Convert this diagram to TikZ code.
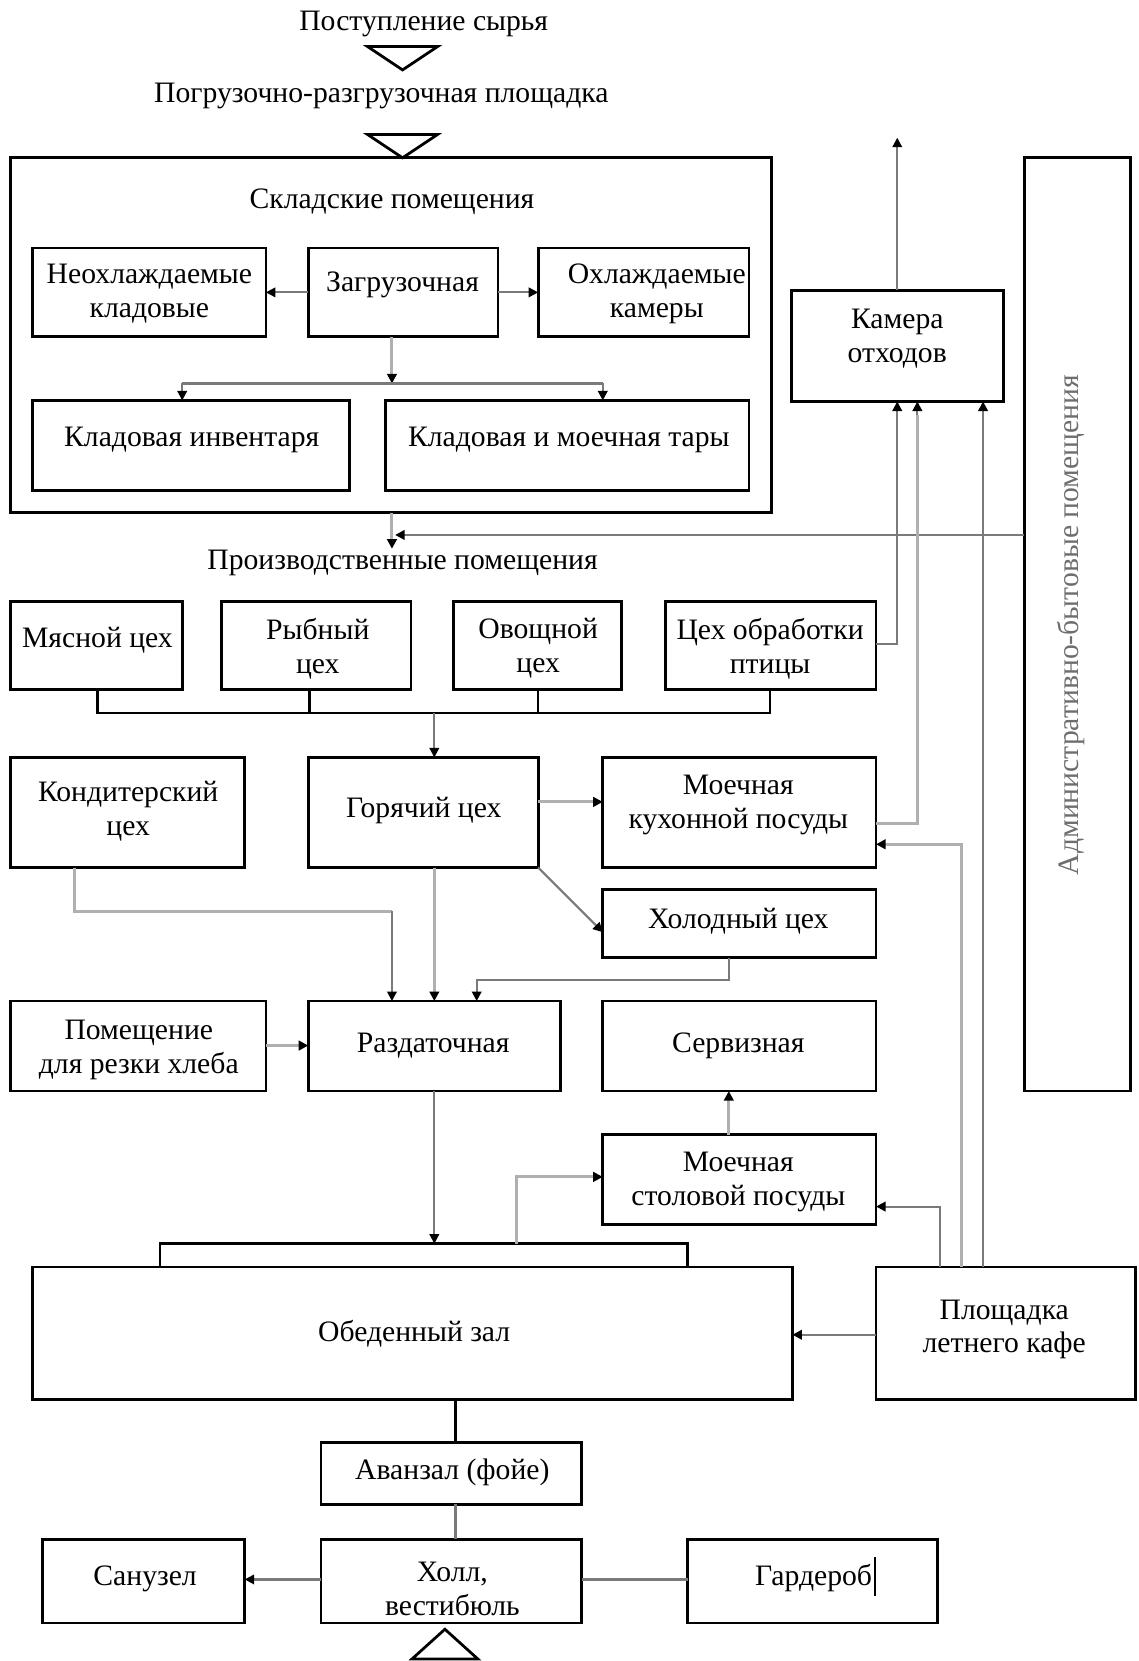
\documentclass[tikz,border=0pt]{standalone}
\usepackage{fontspec}
\setmainfont{Liberation Serif}
\usetikzlibrary{arrows.meta,fit}
\definecolor{darkg}{HTML}{7A7A7A}
\definecolor{lightg}{HTML}{B0B0B0}
\definecolor{admtext}{HTML}{6E6E6E}
\tikzset{
  box/.style={draw=black, line width=1.3pt, inner sep=0pt, outer sep=0pt},
  txtbase/.style={font=\fontsize{14}{16}\selectfont, align=center, inner sep=0pt},
  txt/.style={txtbase, yshift=-1.5pt},
  conn/.style={draw=darkg, line width=1pt, -{Triangle[length=4.5pt,width=4.5pt,color=black]}},
  connl/.style={draw=lightg, line width=1.4pt, -{Triangle[length=4.5pt,width=4.5pt,color=black]}},
  ln/.style={draw=darkg, line width=1pt},
  lnl/.style={draw=lightg, line width=1.4pt},
  bus/.style={draw=black, line width=1.2pt},
  tri/.style={draw=black, line width=1.3pt, line join=miter},
}
\newcommand\bx[5]{\node[box, fit={(#2,#3) (#4,#5)}] (#1) {};}
\begin{document}
\begin{tikzpicture}[x=0.5pt,y=-0.5pt]
\useasboundingbox (0,0) rectangle (1075,1568);
% top texts and triangles
\node[txt] (post) at (400,20) {Поступление сырья};
\draw[tri] (347,44) -- (413,44) -- (380,66) -- cycle;
\node[txt] (pogr) at (360,88) {Погрузочно-разгрузочная площадка};
\draw[tri] (347,127) -- (413,127) -- (380,149) -- cycle;
% storage block
\bx{skl}{10}{149}{728}{484}
\node[txt] (sklt) at (370,187) {Складские помещения};
\bx{neo}{31}{234}{251}{318}
\node[txt] (neot) at (141,274) {Неохлаждаемые\\кладовые};
\bx{zag}{291}{234}{470}{318}
\node[txt] (zagt) at (380,266) {Загрузочная};
\bx{ohl}{508}{234}{707}{318}
\node[txt] (ohlt) at (620,274) {Охлаждаемые\\камеры};
\bx{kinv}{31}{378}{330}{463}
\node[txt] (kinvt) at (181,412) {Кладовая инвентаря};
\bx{kmt}{364}{378}{707}{463}
\node[txt] (kmtt) at (537,412) {Кладовая и моечная тары};
% waste chamber and admin
\bx{kam}{747}{274}{947}{379}
\node[txt] (kamt) at (847,317) {Камера\\отходов};
\bx{adm}{967}{149}{1067}{1030}
\node[txtbase, rotate=90, text=admtext] (admt) at (1011,590) {Административно-бытовые помещения};
% production
\node[txt] (prod) at (380,528) {Производственные помещения};
\bx{mya}{10}{568}{172}{651}
\node[txt] (myat) at (92,601) {Мясной цех};
\bx{ryb}{209}{568}{388}{651}
\node[txt] (rybt) at (300,609) {Рыбный\\цех};
\bx{ovo}{428}{568}{587}{651}
\node[txt] (ovot) at (508,609) {Овощной\\цех};
\bx{pti}{628}{568}{827}{651}
\node[txt] (ptit) at (727,609) {Цех обработки\\птицы};
\bx{kon}{10}{715}{231}{819}
\node[txt] (kont) at (121,763) {Кондитерский\\цех};
\bx{gor}{291}{715}{508}{819}
\node[txt] (gort) at (400,762) {Горячий цех};
\bx{mkp}{569}{715}{827}{819}
\node[txt] (mkpt) at (697,757) {Моечная\\кухонной посуды};
\bx{hol}{569}{840}{827}{904}
\node[txt] (holt) at (697,867) {Холодный цех};
\bx{pom}{10}{945}{251}{1030}
\node[txt] (pomt) at (131,988) {Помещение\\для резки хлеба};
\bx{raz}{291}{945}{529}{1030}
\node[txt] (razt) at (409,984) {Раздаточная};
\bx{ser}{569}{945}{827}{1030}
\node[txt] (sert) at (697,984) {Сервизная};
\bx{msp}{569}{1071}{827}{1156}
\node[txt] (mspt) at (697,1113) {Моечная\\столовой посуды};
\bx{bar}{151}{1174}{649}{1196}
\bx{obe}{31}{1196}{748}{1321}
\node[txt] (obet) at (391,1256) {Обеденный зал};
\bx{plo}{827}{1196}{1072}{1321}
\node[txt] (plot) at (948,1252) {Площадка\\летнего кафе};
% lower part
\bx{ava}{303}{1362}{549}{1420}
\node[txt] (avat) at (427,1387) {Аванзал (фойе)};
\bx{hll}{303}{1453}{549}{1532}
\node[txt] (hllt) at (427,1497) {Холл,\\вестибюль};
\bx{san}{40}{1453}{231}{1532}
\node[txt] (sant) at (137,1487) {Санузел};
\bx{gar}{649}{1453}{885}{1532}
\node[txt] (gart) at (768,1487) {Гардероб};
\draw[line width=0.9pt] (826,1470) -- (826,1507);
\draw[tri] (389,1566) -- (451,1566) -- (420,1538) -- cycle;
% --- connectors: storage
\draw[conn] (zag.west) -- (neo.east);
\draw[conn] (zag.east) -- (ohl.west);
\coordinate (sp) at (370,362);
\draw[connl] (370,0 |- zag.south) -- (sp);
\draw[ln] (172,362) -- (569,362);
\draw[conn] (172,362) -- (172,0 |- kinv.north);
\draw[conn] (569,362) -- (569,0 |- kmt.north);
% storage -> production
\draw[connl] (370,0 |- skl.south) -- (370,518);
\draw[conn] (adm.west |- 0,505) -- (373,505);
% shops bus
\draw[bus] (92,0 |- mya.south) -- (92,673) -- (727,673) -- (727,0 |- pti.south);
\draw[bus] (292,0 |- ryb.south) -- (292,673);
\draw[bus] (508,0 |- ovo.south) -- (508,673);
\draw[conn] (410,673) -- (410,0 |- gor.north);
\draw[conn] (pti.east |- 0,608) -| (847,0 |- kam.south);
% hot shop
\draw[connl] (gor.east |- 0,757) -- (mkp.west |- 0,757);
\draw[conn] (gor.south east) -- (hol.west |- 0,880);
\draw[lnl] (mkp.east |- 0,777) -| (866,392);
\draw[conn] (866,392) -- (866,0 |- kam.south);
\draw[connl] (908,0 |- plo.north) |- (mkp.east |- 0,797);
\draw[conn] (928,0 |- plo.north) -- (928,0 |- kam.south);
\draw[lnl] (70,0 |- kon.south) |- (370,860);
\draw[conn] (370,860) -- (370,0 |- raz.north);
\draw[connl] (410,0 |- gor.south) -- (410,0 |- raz.north);
\draw[conn] (688,0 |- hol.south) |- (450,925) -- (450,0 |- raz.north);
\draw[connl] (pom.east |- 0,987) -- (raz.west |- 0,987);
\draw[connl] (688,0 |- msp.north) -- (688,0 |- ser.south);
\draw[conn] (410,0 |- raz.south) -- (410,0 |- bar.north);
\draw[connl] (488,0 |- bar.north) |- (msp.west |- 0,1111);
\draw[conn] (887,0 |- plo.north) |- (msp.east |- 0,1139);
\draw[conn] (plo.west |- 0,1260) -- (obe.east |- 0,1260);
\draw[conn] (847,0 |- kam.north) -- (847,130);
% lower connectors
\draw[bus] (430,0 |- obe.south) -- (430,0 |- ava.north);
\draw[ln] (430,0 |- ava.south) -- (430,0 |- hll.north);
\draw[conn] (hll.west |- 0,1491) -- (san.east |- 0,1491);
\draw[ln] (hll.east |- 0,1491) -- (gar.west |- 0,1491);
\end{tikzpicture}
\end{document}
